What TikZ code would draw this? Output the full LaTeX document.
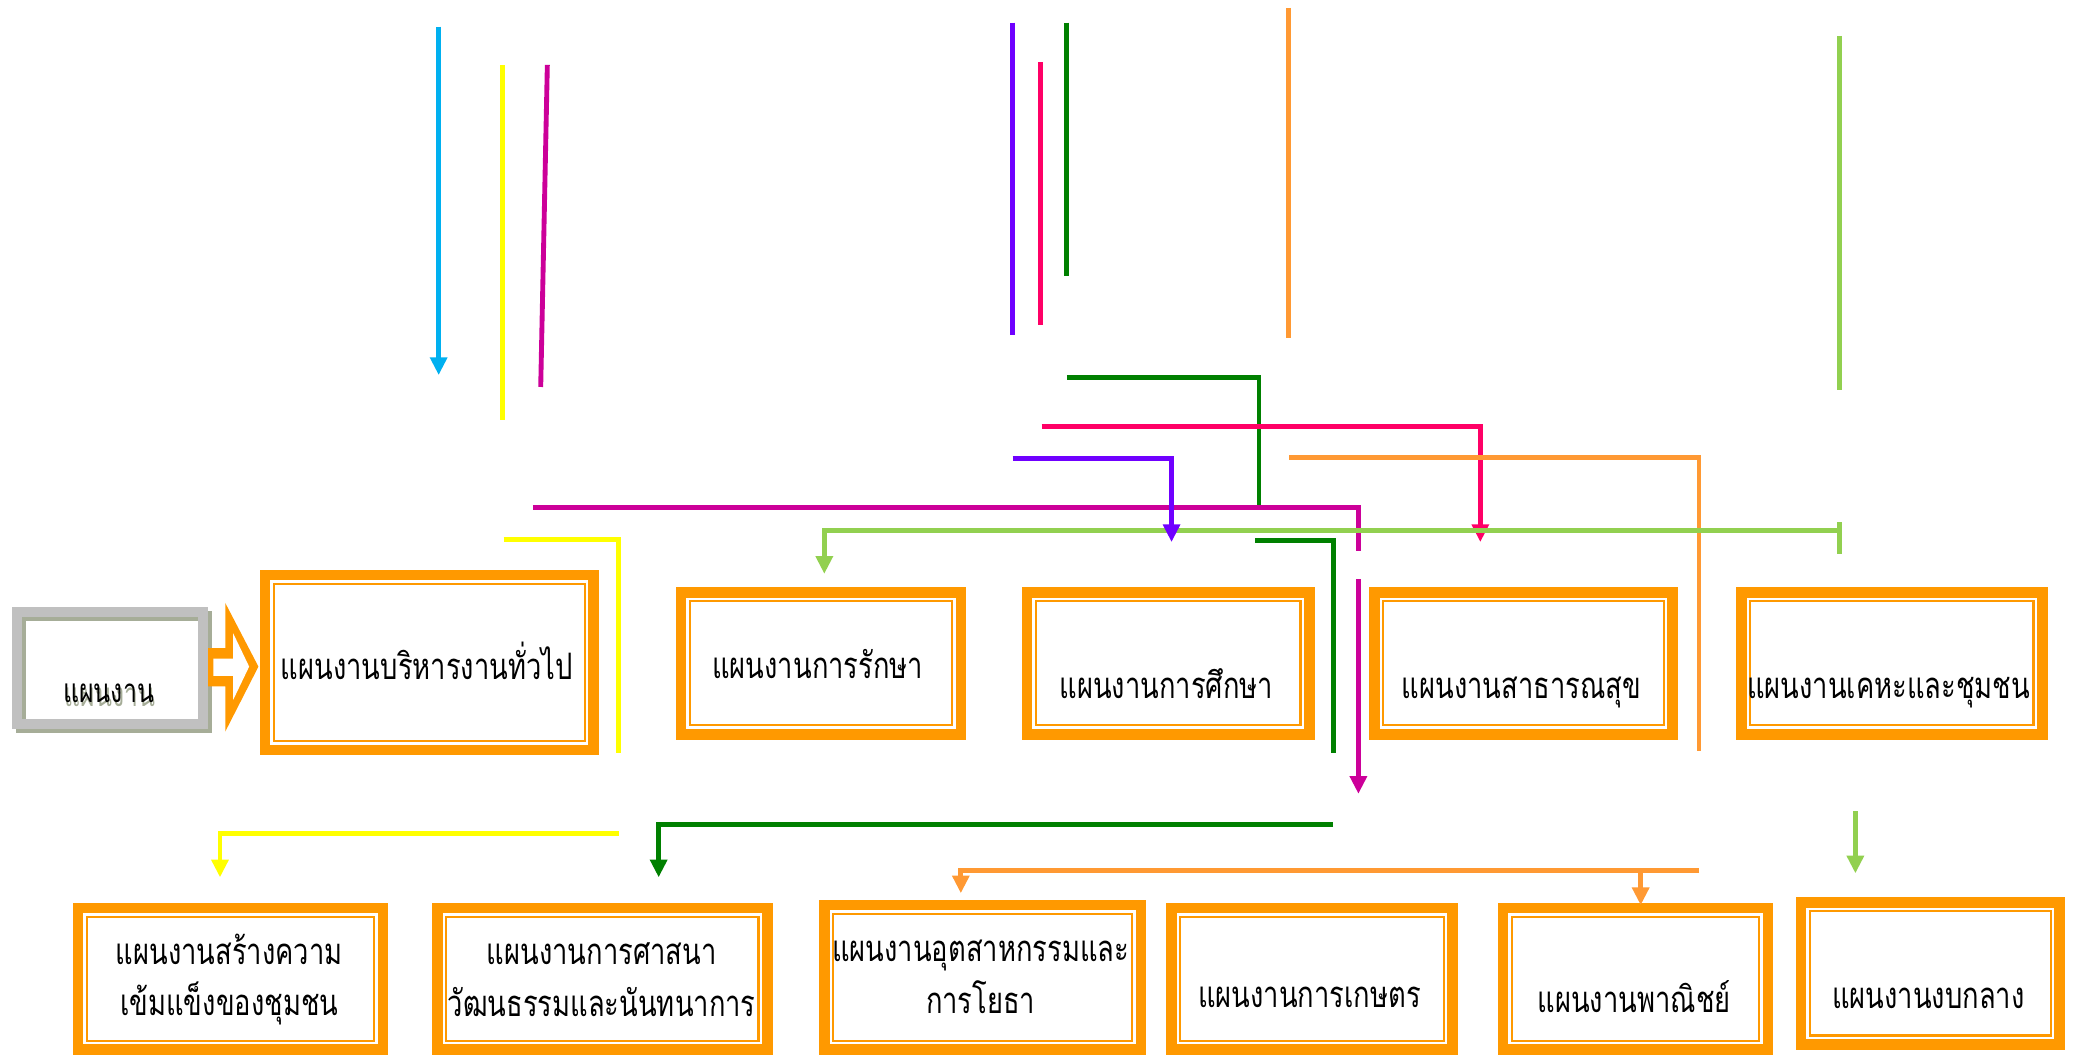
\documentclass[tikz,border=0pt]{standalone}
\usepackage{fontspec}
\newfontfamily\thaifont[Script=Thai, FakeStretch=0.75]{Loma}
\usetikzlibrary{arrows.meta}
\definecolor{boxor}{HTML}{FF9900}
\definecolor{lnor}{HTML}{FF9933}
\definecolor{cblue}{HTML}{00B0F0}
\definecolor{cyel}{HTML}{FFFF00}
\definecolor{cmag}{HTML}{CC0099}
\definecolor{cpur}{HTML}{6F00FF}
\definecolor{cpink}{HTML}{FF0066}
\definecolor{cgrn}{HTML}{008000}
\definecolor{clg}{HTML}{92D050}
\definecolor{gbord}{HTML}{C0C0C0}
\definecolor{gshad}{HTML}{A6AD98}
\newcommand\obx[5]{%
  \node[obox, minimum width={((#4)-(#2))*0.6pt-4.8pt}, minimum height={((#5)-(#3))*0.6pt-4.8pt}] (#1) at ({((#2)+(#4))/2},{((#3)+(#5))/2}) {};
  \draw[inline] ([shift={(4pt,-4pt)}]#1.north west) rectangle ([shift={(-4pt,4pt)}]#1.south east);}
\begin{document}
\begin{tikzpicture}[x=0.6pt,y=-0.6pt,
  obox/.style={draw=boxor, line width=4.8pt, fill=white, outer sep=0pt, inner sep=0pt},
  inline/.style={draw=boxor, line width=1pt},
  lbl/.style={font=\thaifont\fontsize{16.5pt}{23.4pt}\selectfont, align=center, inner sep=0pt},
  glbl/.style={font=\thaifont\fontsize{15pt}{20pt}\selectfont, inner sep=0pt},
  conn/.style={line width=2.2pt},
  tip/.style={-{Triangle[width=7.5pt,length=8pt]}}]
\useasboundingbox[fill=white] (0,0) rectangle (1568,796);

% ---------- gray box ----------
\node[draw=gshad, line width=4.5pt, outer sep=0pt, inner sep=0pt, minimum width=84.3pt, minimum height=50.7pt] (gsh) at (86,507) {};
\node[draw=gbord, line width=4.5pt, outer sep=0pt, inner sep=0pt, minimum width=84.3pt, minimum height=50.7pt] (gbox) at (83,504) {};
\node[glbl, anchor=base, text=gshad] (gtsh) at (83,533) {แผนงาน};
\node[glbl, anchor=base] (gt) at (82,530) {แผนงาน};

% ---------- block arrow ----------
\fill[boxor] (157,489) -- (170,489) -- (170,455) -- (195,503) -- (170,552) -- (170,518) -- (157,518) -- cycle;
\fill[white] (161,497) -- (176,497) -- (176,478) -- (188,503) -- (176,528) -- (176,510) -- (161,510) -- cycle;

% ---------- boxes ----------
\obx{A}{196}{430}{452}{570}
\obx{B}{510}{443}{729}{558}
\obx{C}{771}{443}{992}{558}
\obx{D}{1033}{443}{1266}{558}
\obx{E}{1310}{443}{1545}{558}
\obx{F}{55}{681}{293}{796}
\obx{G}{326}{681}{583}{796}
\obx{H}{618}{679}{865}{796}
\obx{I}{880}{681}{1100}{796}
\obx{J}{1130}{681}{1338}{796}
\obx{K}{1355}{677}{1558}{792}

\node[lbl, anchor=base] (tA) at (322,513) {แผนงานบริหารงานทั่วไป};
\node[lbl, anchor=base] (tB) at (617,512) {แผนงานการรักษา};
\node[lbl, anchor=base] (tC) at (880,527) {แผนงานการศึกษา};
\node[lbl, anchor=base] (tD) at (1148,527) {แผนงานสาธารณสุข};
\node[lbl, anchor=base] (tE) at (1425,527) {แผนงานเคหะและชุมชน};
\node[lbl] (tF) at (173,739) {แผนงานสร้างความ\\เข้มแข็งของชุมชน};
\node[lbl] (tG) at (454,739) {แผนงานการศาสนา\\วัฒนธรรมและนันทนาการ};
\node[lbl] (tH) at (740,737) {แผนงานอุตสาหกรรมและ\\การโยธา};
\node[lbl, anchor=base] (tI) at (988,760) {แผนงานการเกษตร};
\node[lbl, anchor=base] (tJ) at (1233,764) {แผนงานพาณิชย์};
\node[lbl, anchor=base] (tK) at (1455,761) {แผนงานงบกลาง};

% ---------- coordinates ----------
\coordinate (b1) at (331,20);   \coordinate (b2) at (331,283);
\coordinate (y1) at (379,49);   \coordinate (y2) at (379,317);
\coordinate (m1) at (413,49);   \coordinate (m2) at (408,292);
\coordinate (p1) at (764,17);   \coordinate (p2) at (764,253);
\coordinate (r1) at (785,47);   \coordinate (r2) at (785,245);
\coordinate (g1) at (805,17);   \coordinate (g2) at (805,208);
\coordinate (o1) at (972,6);    \coordinate (o2) at (972,255);
\coordinate (l1) at (1388,27);  \coordinate (l2) at (1388,294);

\coordinate (gc1) at (805,285); \coordinate (gc2) at (950,381);
\coordinate (rc1) at (786,322); \coordinate (rc2) at (1117,409);
\coordinate (pc1) at (764,346); \coordinate (pc2) at (884,409);
\coordinate (oc1) at (973,345); \coordinate (oc2) at (1282,567);
\coordinate (mc1) at (402,383); \coordinate (mc2) at (1025,416);
\coordinate (mc3) at (1025,437); \coordinate (mc4) at (1025,599);
\coordinate (lc1) at (1388,400); \coordinate (lc2) at (622,433);
\coordinate (lt1) at (1388,394); \coordinate (lt2) at (1388,418);
\coordinate (yc1) at (380,407); \coordinate (yc2) at (467,568);
\coordinate (yc3) at (467,629); \coordinate (yc4) at (166,662);
\coordinate (gd1) at (947,408); \coordinate (gd2) at (1006,568);
\coordinate (gd3) at (1006,622); \coordinate (gd4) at (497,662);
\coordinate (ob1) at (1282,657); \coordinate (ob2) at (725,674);
\coordinate (ob3) at (1238,657); \coordinate (ob4) at (1238,683);
\coordinate (lb1) at (1400,612); \coordinate (lb2) at (1400,659);

% ---------- top vertical lines ----------
\draw[conn, cblue, tip] (b1) -- (b2);
\draw[conn, cyel] (y1) -- (y2);
\draw[conn, cmag] (m1) -- (m2);
\draw[conn, cpur] (p1) -- (p2);
\draw[conn, cpink] (r1) -- (r2);
\draw[conn, cgrn] (g1) -- (g2);
\draw[conn, lnor] (o1) -- (o2);
\draw[conn, clg] (l1) -- (l2);

% ---------- middle connectors ----------
\draw[conn, cgrn] (gc1) -| (gc2);
\draw[conn, cpink, tip] (rc1) -| (rc2);
\draw[conn, lnor] (oc1) -| (oc2);
\draw[conn, cmag] (mc1) -| (mc2);
\draw[conn, cmag, tip] (mc3) -- (mc4);
\draw[conn, clg, tip] (lc1) -| (lc2);
\draw[conn, clg] (lt1) -- (lt2);
\draw[conn, cpur, tip] (pc1) -| (pc2);
\draw[conn, cyel] (yc1) -| (yc2);
\draw[conn, cyel, tip] (yc3) -| (yc4);
\draw[conn, cgrn] (gd1) -| (gd2);
\draw[conn, cgrn, tip] (gd3) -| (gd4);
\draw[conn, lnor, tip] (ob1) -| (ob2);
\draw[conn, lnor, tip] (ob3) -- (ob4);
\draw[conn, clg, tip] (lb1) -- (lb2);
\end{tikzpicture}
\end{document}
